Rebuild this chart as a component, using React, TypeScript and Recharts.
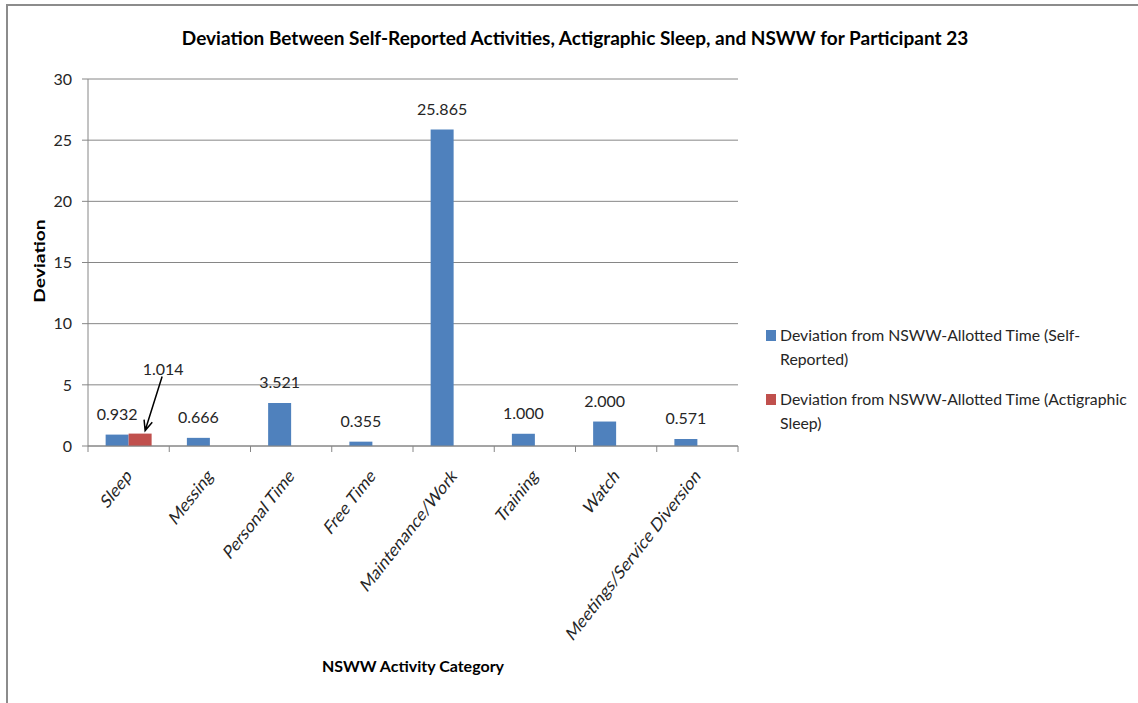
import { BarChart, Bar, XAxis, YAxis, CartesianGrid, Legend, LabelList, Label } from 'recharts';

const categories = ['Sleep', 'Messing', 'Personal Time', 'Free Time', 'Maintenance/Work', 'Training', 'Watch', 'Meetings/Service Diversion'];
const selfReported = [0.932, 0.666, 3.521, 0.355, 25.865, 1.0, 2.0, 0.571];
const actigraphic: (number | null)[] = [1.014, null, null, null, null, null, null, null];
const yTicks = [0, 5, 10, 15, 20, 25, 30];
const seriesNames = [
  'Deviation from NSWW-Allotted Time (Self-Reported)',
  'Deviation from NSWW-Allotted Time (Actigraphic Sleep)',
];

const data = categories.map((c, i) => ({ category: c, self: selfReported[i], acti: actigraphic[i] }));

const FONT = "Lato, 'Open Sans', sans-serif";
const GRID = '#868686';
const TEXT = '#262626';
// the source picture is stretched vertically, so rotated text runs steeper than 45deg
const STRETCH = 1.28;

function CategoryTick(props: any) {
  const { x, y, payload, index, visibleTicksCount } = props;
  const half = payload.offset || 650 / 8 / 2;
  const last = index === visibleTicksCount - 1;
  return (
    <g>
      <line x1={x - half} x2={x - half} y1={y} y2={y + 6} stroke={GRID} />
      {last && <line x1={x + half} x2={x + half} y1={y} y2={y + 6} stroke={GRID} />}
      <text
        transform={`translate(${x + 4},${y + 31}) scale(1,${STRETCH}) rotate(-45)`}
        textAnchor="end"
        fontSize={15}
        fill={TEXT}
        fontFamily={FONT}
      >
        {payload.value}
      </text>
    </g>
  );
}

function ArrowLabel(props: any) {
  const { x, y, width, value } = props;
  if (value == null) return null;
  const cx = x + width / 2;
  const sx = cx + 22, sy = y - 57;
  const tx = cx + 5, ty = y - 3;
  const ang = Math.atan2(sy - ty, sx - tx);
  const head = 11, spread = 0.4;
  const h1x = tx + head * Math.cos(ang + spread), h1y = ty + head * Math.sin(ang + spread);
  const h2x = tx + head * Math.cos(ang - spread), h2y = ty + head * Math.sin(ang - spread);
  return (
    <g>
      <text x={cx + 23} y={y - 59} textAnchor="middle" fontSize={16} fill={TEXT} fontFamily={FONT}>
        {Number(value).toFixed(3)}
      </text>
      <path d={`M${sx},${sy} L${tx},${ty} M${h1x},${h1y} L${tx},${ty} L${h2x},${h2y}`} stroke="#000" strokeWidth={1.5} fill="none" />
    </g>
  );
}

function renderLegend(props: any) {
  const items = [...(props.payload || [])].sort(
    (a: any, b: any) => seriesNames.indexOf(a.value) - seriesNames.indexOf(b.value),
  );
  return (
    <div style={{ fontFamily: FONT, fontSize: 15.8, color: TEXT }}>
      {items.map((item: any) => (
        <div key={item.value} style={{ display: 'flex', alignItems: 'flex-start', marginBottom: 16 }}>
          <span style={{ width: 10, height: 11, background: item.color, marginTop: 7, marginRight: 4, flex: 'none' }} />
          <span style={{ width: 352, lineHeight: '24px' }}>{item.value}</span>
        </div>
      ))}
    </div>
  );
}

export default function App() {
  return (
    <div style={{ position: 'absolute', left: 0, top: 0, width: 1138, height: 703, background: '#fff', fontFamily: FONT }}>
      <div
        style={{
          position: 'absolute', left: 6, top: 4, width: 1140, height: 697,
          borderTop: '2px solid #8c8c8c', borderLeft: '2px solid #8c8c8c', borderBottom: '1px solid #d9d9d9',
        }}
      />
      <div
        style={{
          position: 'absolute', left: 0, top: 26, width: 1150, textAlign: 'center',
          fontSize: 19, fontWeight: 700, color: '#000', fontFamily: FONT,
        }}
      >
        Deviation Between Self-Reported Activities, Actigraphic Sleep, and NSWW for Participant 23
      </div>
      <BarChart
        width={1138}
        height={703}
        data={data}
        margin={{ top: 79, right: 400, bottom: 0, left: 0 }}
        barCategoryGap="21.7%"
        barGap={0}
        style={{ position: 'absolute', left: 0, top: 0 }}
      >
        <CartesianGrid stroke={GRID} vertical={false} />
        <XAxis
          dataKey="category"
          height={257}
          interval={0}
          tickSize={0}
          tickMargin={0}
          tickLine={false}
          axisLine={{ stroke: GRID }}
          tick={<CategoryTick />}
        >
          <Label
            value="NSWW Activity Category"
            position="insideBottom"
            offset={31}
            style={{ fontSize: 16, fontWeight: 700, fill: '#000', fontFamily: FONT }}
          />
        </XAxis>
        <YAxis
          type="number"
          domain={[0, 30]}
          ticks={yTicks}
          width={88}
          tickSize={6}
          tickMargin={10}
          tickLine={{ stroke: GRID }}
          axisLine={{ stroke: GRID }}
          tick={{ fontSize: 16, fill: TEXT, fontFamily: FONT }}
        >
          <Label
            content={() => (
              <text
                transform={`translate(45,261) scale(1,${STRETCH}) rotate(-90)`}
                textAnchor="middle"
                fontSize={15}
                fontWeight={700}
                fill="#000"
                fontFamily={FONT}
              >
                Deviation
              </text>
            )}
          />
        </YAxis>
        <Legend
          layout="vertical"
          align="center"
          verticalAlign="middle"
          wrapperStyle={{ position: 'absolute', left: 766, top: 323, width: 372 }}
          content={renderLegend}
        />
        <Bar dataKey="self" name={seriesNames[0]} fill="#4F81BD" isAnimationActive={false}>
          <LabelList
            dataKey="self"
            position="top"
            offset={15}
            formatter={(v: any) => Number(v).toFixed(3)}
            style={{ fontSize: 16, fill: TEXT, fontFamily: FONT }}
          />
        </Bar>
        <Bar dataKey="acti" name={seriesNames[1]} fill="#C0504D" isAnimationActive={false}>
          <LabelList dataKey="acti" content={<ArrowLabel />} />
        </Bar>
      </BarChart>
    </div>
  );
}
